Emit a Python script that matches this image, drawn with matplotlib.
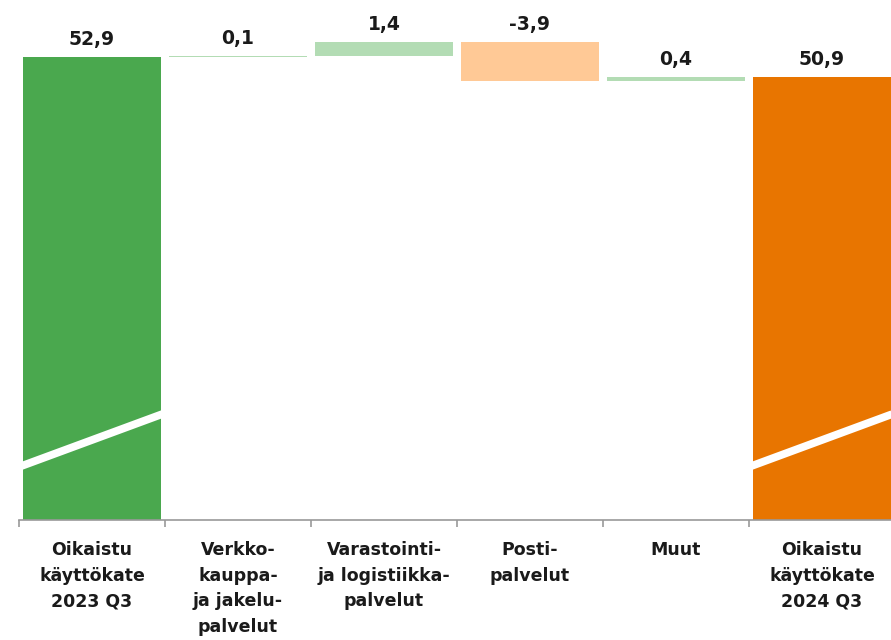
import numpy as np
import matplotlib
matplotlib.use("Agg")
import matplotlib.pyplot as plt

# Waterfall data: adjusted EBITDA bridge (MEUR)
categories = ["Oikaistu\nkäyttökate\n2023 Q3", "Verkko-\nkauppa-\nja jakelu-\npalvelut",
              "Varastointi-\nja logistiikka-\npalvelut", "Posti-\npalvelut", "Muut",
              "Oikaistu\nkäyttökate\n2024 Q3"]
start_value = 52.9
changes = [0.1, 1.4, -3.9, 0.4]
end_value = 50.9
value_labels = ["52,9", "0,1", "1,4", "-3,9", "0,4", "50,9"]

green = "#4aa84e"
light_green = "#b3dcb4"
peach = "#ffc996"
orange = "#e87500"

# bar bottoms and heights
cum = start_value + np.cumsum([0] + changes[:-1])
bottoms = [0] + list(cum) + [0]
heights = [start_value] + changes + [end_value]
colors = [green] + [light_green if c > 0 else peach for c in changes] + [orange]

fig = plt.figure(figsize=(8.91, 6.40), dpi=100)
ax = fig.add_axes([19 / 891, 120 / 640, 876 / 891, 520 / 640])

x = np.arange(len(categories))
ax.bar(x, heights, bottom=bottoms, width=0.945, color=colors, linewidth=0)

# truncated axis
ymin = 6.6
ax.set_ylim(ymin, ymin + 52.0)
ax.set_xlim(-0.5, len(categories) - 0.5)

# value labels above each bar
for i, (b, h, lab) in enumerate(zip(bottoms, heights, value_labels)):
    top = max(b, b + h)
    ax.annotate(lab, (x[i], top), xytext=(0, 6), textcoords="offset points",
                ha="center", va="bottom", fontsize=13.5, fontweight="bold",
                color="#1a1a1a", annotation_clip=False)

# axis break marks on the total bars
for xi in [x[0], x[-1]]:
    ax.plot([xi - 0.52, xi + 0.52], [11.8, 17.4], color="white", linewidth=5.6,
            solid_capstyle="butt", clip_on=False)

# formatting
for side in ["left", "right", "top"]:
    ax.spines[side].set_visible(False)
ax.spines["bottom"].set_color("#999999")
ax.spines["bottom"].set_linewidth(1.2)
ax.set_yticks([])
ax.set_xticks(np.arange(len(categories) + 1) - 0.5)
ax.set_xticklabels([])
ax.tick_params(axis="x", which="major", length=5, color="#999999", width=1.2)
ax.set_xticks(x, minor=True)
ax.set_xticklabels(categories, minor=True, fontweight="bold", fontsize=12.5,
                   family=["DejaVu Sans Condensed", "DejaVu Sans"], linespacing=1.55,
                   color="#1a1a1a")
ax.tick_params(axis="x", which="minor", length=0, pad=15)

fig.savefig("out.png", dpi=100)
